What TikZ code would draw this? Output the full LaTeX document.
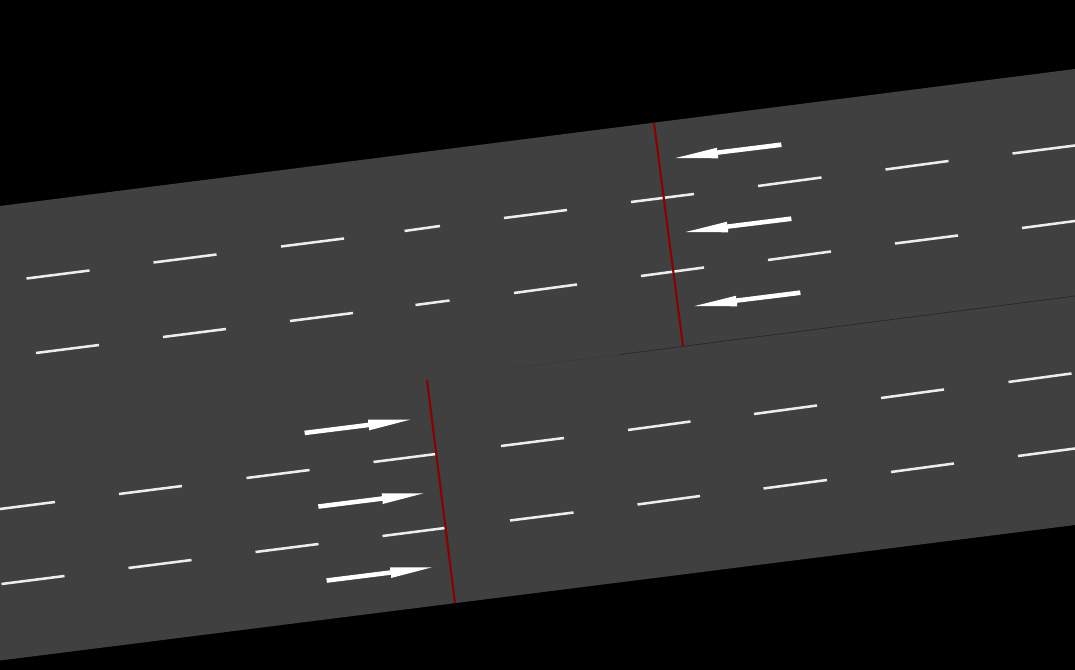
\documentclass[tikz,border=0pt]{standalone}
\definecolor{road}{HTML}{404040}
\definecolor{stopline}{HTML}{8B0000}
\definecolor{seam}{HTML}{262626}
\definecolor{seamfaint}{HTML}{383838}
\definecolor{lanemark}{HTML}{EDEDED}
\tikzset{
  lanedash/.style={draw=lanemark,line width=1.9pt},
  stopbar/.style={draw=stopline,line width=1.6pt},
  flowarrow/.style={fill=white,draw=none}
}
\newcommand{\leftarrowat}[2]{\fill[flowarrow] (#1,#2) -- +(41.5,-10.3) -- +(41.3,-7.6) -- +(105.3,-15.6) -- +(106,-11) -- +(42.3,-3.2) -- +(42.3,0.3) -- cycle;}
\newcommand{\rightarrowat}[2]{\fill[flowarrow] (#1,#2) -- +(-42,0) -- +(-41.7,3) -- +(-105.7,11) -- +(-105,15.5) -- +(-41,7.5) -- +(-41,10.7) -- cycle;}
\begin{document}
\begin{tikzpicture}[x=0.75pt,y=-0.75pt]
\useasboundingbox (0,0) rectangle (1075,670);
\fill[black] (0,0) rectangle (1075,670);
\fill[road] (0,206) -- (1075,69) -- (1075,525) -- (0,660.5) -- cycle;
\draw[draw=seamfaint,line width=0.4pt] (515,368) -- (620,354.5);
\draw[draw=seam,line width=0.5pt] (620,354.5) -- (1075,296);
\foreach \xa/\ya/\xb/\yb in {
 26.5/278.5/89.5/270.5, 153.5/262.5/216.5/254.5, 281/246.5/344/238.5, 404.5/231/440/226,
 504/218/567/210, 631/202/694/194, 758/186/821.5/177.5, 885.5/169.5/948.5/161, 1012.5/153.5/1075/145.5,
 36/353/99/345, 163/337/226/329, 290/321/353/313, 415.5/305/449.5/300.5,
 514/293/577/284.5, 641/276/704/267.5, 768/260/831/251.5, 895/243.5/958/235.5, 1022/228/1075/221,
 0/509/55/502, 119/494/182/486, 246.5/478/309.5/470, 373.5/462/436/454,
 501/446/564/438, 628/430/690.5/421.5, 754/414/817/405.5, 881/398/944/389.5, 1008.5/382/1071.5/373.5,
 1.5/584/64.5/576, 128.5/568/191.5/560, 255.5/552/318.5/544, 382.5/536/445/528,
 510/520.5/573.5/512.5, 637.5/504.5/700/496, 763.5/488.5/827/480, 891/472/954/463.5, 1018/456/1075/448.5}
 {\draw[lanedash] (\xa,\ya) -- (\xb,\yb);}
\draw[stopbar] (654,123) -- (683,346);
\draw[stopbar] (427,380) -- (455,603);
\leftarrowat{675.7}{158}
\leftarrowat{685.7}{232}
\leftarrowat{694.7}{306}
\rightarrowat{410}{419.7}
\rightarrowat{423.7}{493.3}
\rightarrowat{432}{567.3}
\end{tikzpicture}
\end{document}
